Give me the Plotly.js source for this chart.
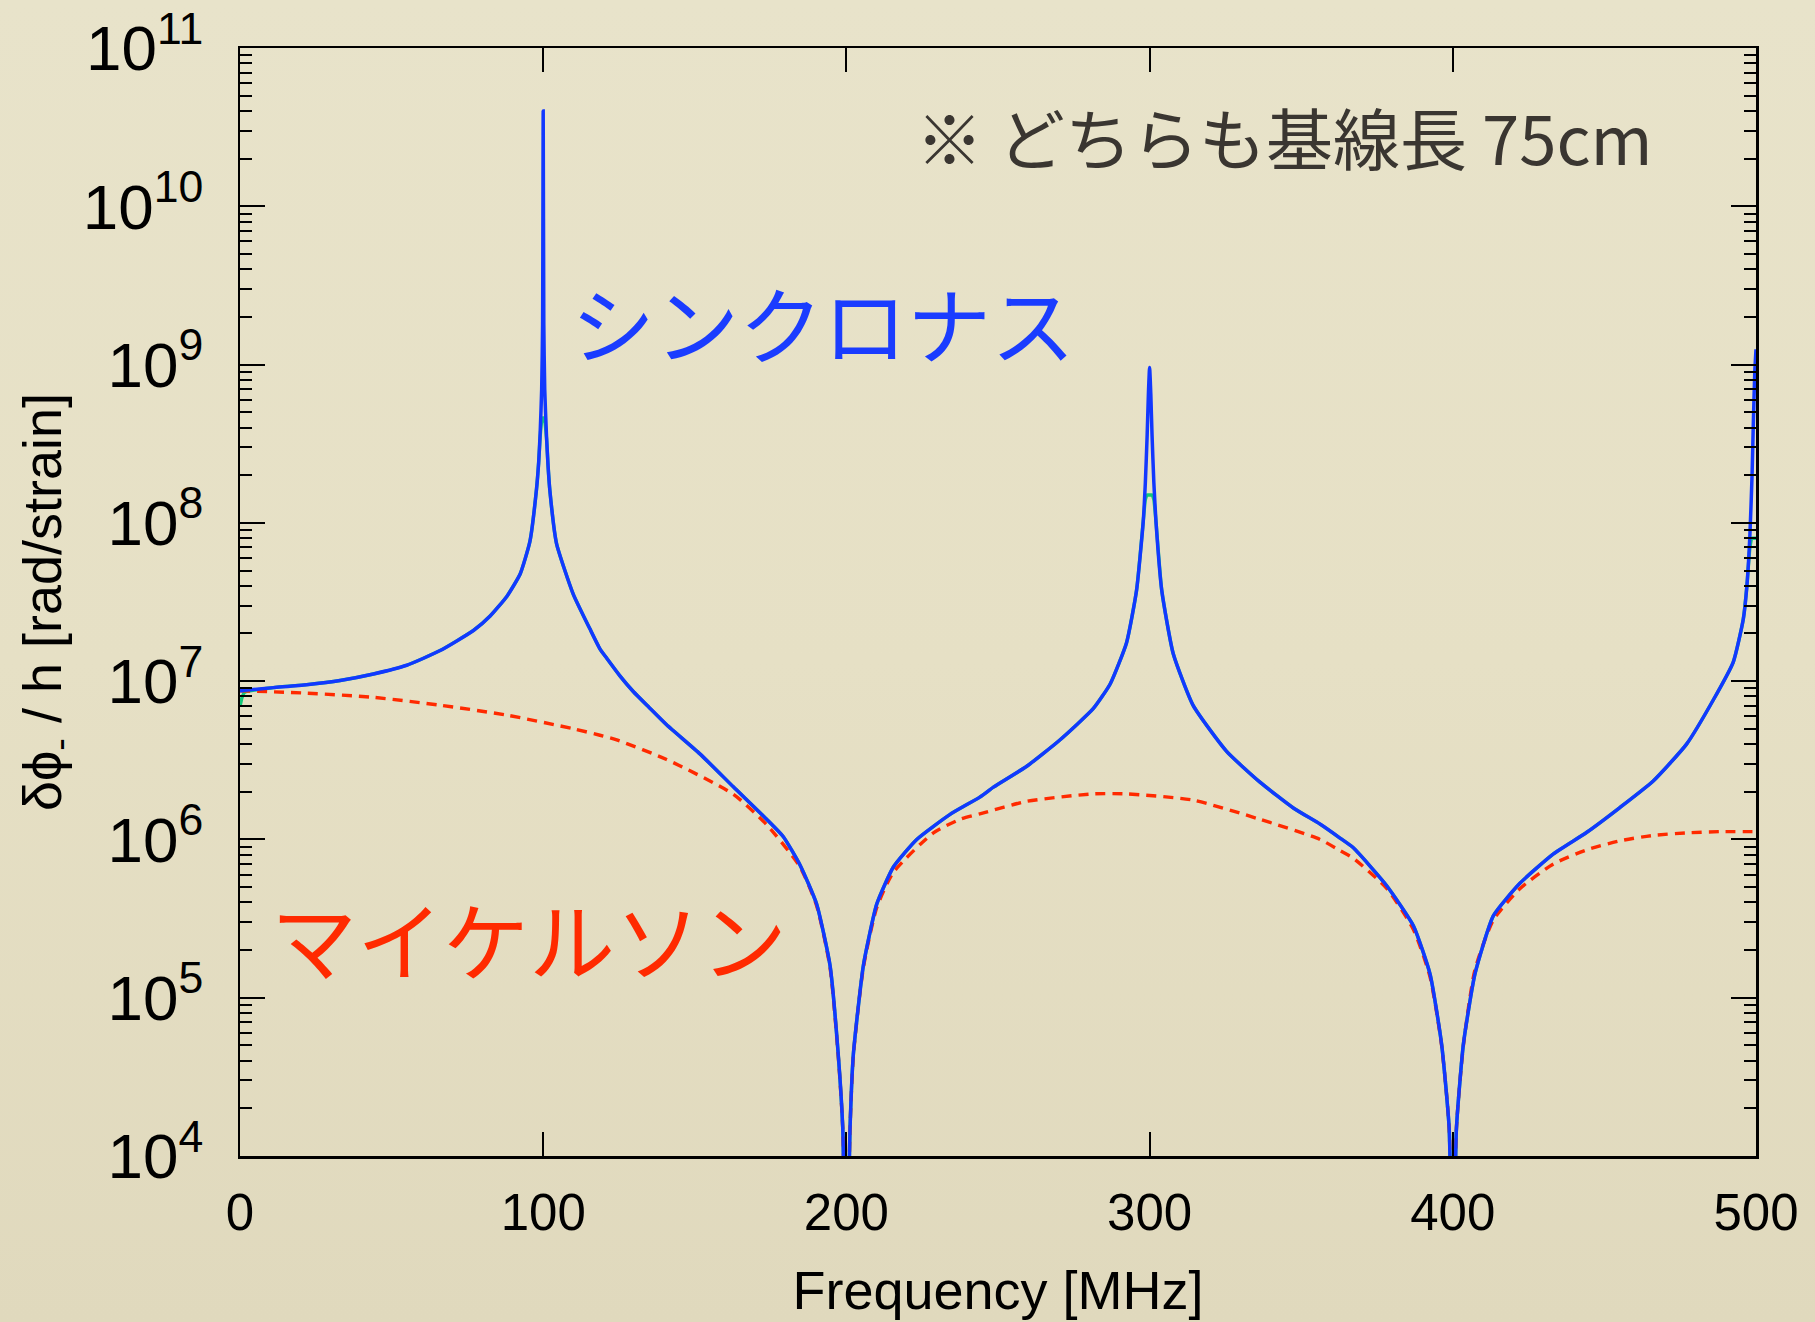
<!DOCTYPE html>
<html>
<head>
<meta charset="utf-8">
<script src="https://cdn.plot.ly/plotly-3.0.1.min.js"></script>
<style>
  html, body { margin: 0; padding: 0; }
  body { width: 1815px; height: 1322px; background: linear-gradient(180deg, #E8E3CA 0%, #E6E0C5 50%, #E0D9BD 100%); }
  #chart { width: 1815px; height: 1322px; }
</style>
</head>
<body>
<div id="chart"></div>
<script>
// Frequencies (MHz) shared by the synchronous (blue) and the third (green) curve
const syncFreq = [0, 0.6, 1.5, 11, 22, 33, 44, 55, 66, 77, 82.5, 88, 92.4, 95.6, 97.8, 98.5, 99, 99.5, 99.8, 100, 100.2, 100.5, 101.1, 101.6, 102.2, 104.4, 109.9, 115.4, 118.7, 120.9, 125.3, 129.7, 135, 140.7, 151.7, 162.7, 173.7, 179.2, 184.7, 190.2, 194.6, 197.3, 198.8, 200, 201.2, 202.3, 205.6, 210, 215.5, 223.2, 234.2, 244, 248.5, 259.5, 270.4, 281.4, 287, 292.4, 295.7, 297.9, 298.6, 299.2, 299.6, 300, 300.4, 300.8, 301.4, 302.1, 304, 307.8, 314.4, 325.4, 336.4, 347.4, 356.2, 362.8, 367.2, 378.2, 387, 392.5, 396.3, 398.8, 400, 401.2, 403.5, 407.3, 413.4, 422.2, 433.2, 444.2, 455.1, 466.1, 477.1, 485.9, 492.5, 495.8, 497, 498, 498.7, 499.1, 499.6, 500];
// Synchronous (blue) response
const syncVal = [8.7e6, 8.7e6, 8.75e6, 9.1e6, 9.5e6, 1.01e7, 1.11e7, 1.26e7, 1.56e7, 2.09e7, 2.58e7, 3.43e7, 4.75e7, 7.6e7, 1.64e8, 2.4e8, 3.7e8, 7e8, 1.8e9, 4.0e10, 1.8e9, 7e8, 3.5e8, 2.3e8, 1.6e8, 7.4e7, 3.55e7, 2.14e7, 1.6e7, 1.4e7, 1.08e7, 8.6e6, 6.8e6, 5.3e6, 3.47e6, 2.15e6, 1.34e6, 1.04e6, 6.9e5, 3.9e5, 1.6e5, 4.4e4, 1.5e4, 1e3, 1.5e4, 4.4e4, 1.6e5, 3.9e5, 6.7e5, 1.0e6, 1.44e6, 1.85e6, 2.14e6, 2.9e6, 4.25e6, 6.7e6, 9.6e6, 1.75e7, 3.75e7, 1.02e8, 1.8e8, 3.6e8, 6.5e8, 9.6e8, 6.5e8, 3.6e8, 1.8e8, 1.02e8, 3.75e7, 1.49e7, 7.0e6, 3.6e6, 2.3e6, 1.58e6, 1.25e6, 1.02e6, 8.85e5, 5.1e5, 2.85e5, 1.41e5, 5.1e4, 1.5e4, 1e3, 1.5e4, 5.1e4, 1.41e5, 3.3e5, 5.3e5, 8.1e5, 1.11e6, 1.59e6, 2.34e6, 4.0e6, 7.6e6, 1.32e7, 2.46e7, 4e7, 8.5e7, 2e8, 4.1e8, 9e8, 1.25e9];
// Third (green) response, mostly hidden under the blue one
const greenVal = [6.9e6, 7.8e6, 8.5e6, 9.1e6, 9.5e6, 1.01e7, 1.11e7, 1.26e7, 1.56e7, 2.09e7, 2.58e7, 3.43e7, 4.75e7, 7.6e7, 1.64e8, 2.4e8, 3.5e8, 4.4e8, 4.6e8, 4.6e8, 4.6e8, 4.4e8, 3.4e8, 2.3e8, 1.6e8, 7.4e7, 3.55e7, 2.14e7, 1.6e7, 1.4e7, 1.08e7, 8.6e6, 6.8e6, 5.3e6, 3.47e6, 2.15e6, 1.34e6, 1.04e6, 6.9e5, 3.9e5, 1.6e5, 4.4e4, 1.5e4, 1e3, 1.5e4, 4.4e4, 1.6e5, 3.9e5, 6.7e5, 1.0e6, 1.44e6, 1.85e6, 2.14e6, 2.9e6, 4.25e6, 6.7e6, 9.6e6, 1.75e7, 3.75e7, 1.02e8, 1.4e8, 1.5e8, 1.5e8, 1.5e8, 1.5e8, 1.5e8, 1.4e8, 1.02e8, 3.75e7, 1.49e7, 7.0e6, 3.6e6, 2.3e6, 1.58e6, 1.25e6, 1.02e6, 8.85e5, 5.1e5, 2.85e5, 1.41e5, 5.1e4, 1.5e4, 1e3, 1.5e4, 5.1e4, 1.41e5, 3.3e5, 5.3e5, 8.1e5, 1.11e6, 1.59e6, 2.34e6, 4.0e6, 7.6e6, 1.32e7, 2.46e7, 4e7, 7e7, 8e7, 8e7, 8e7, 8e7];

// Michelson (red dotted) response
const michFreq = [0, 22, 44, 66, 88, 110, 118.7, 124, 140.7, 162.7, 173.7, 184.7, 190.2, 194.6, 197.3, 198.8, 200, 201.2, 202.3, 205.6, 210, 215.5, 228.7, 237.5, 244, 259.5, 281.4, 292.4, 314.4, 336.4, 356.2, 362.8, 367.2, 378.2, 387, 392.5, 396.3, 398.8, 400, 401.2, 403.5, 407.3, 413.4, 422.2, 433.2, 444.2, 455.1, 466.1, 477.1, 488, 500];
const michVal = [8.7e6, 8.4e6, 7.9e6, 7.05e6, 6.1e6, 5.0e6, 4.55e6, 4.27e6, 3.2e6, 1.93e6, 1.24e6, 6.7e5, 3.8e5, 1.55e5, 4.3e4, 1.5e4, 1e3, 1.5e4, 4.3e4, 1.55e5, 3.7e5, 6.2e5, 1.1e6, 1.34e6, 1.45e6, 1.74e6, 1.94e6, 1.94e6, 1.77e6, 1.34e6, 1.0e6, 8.5e5, 7.6e5, 4.9e5, 2.7e5, 1.35e5, 5e4, 1.5e4, 1e3, 1.5e4, 5e4, 1.5e5, 3.1e5, 4.9e5, 7.0e5, 8.6e5, 9.8e5, 1.06e6, 1.10e6, 1.12e6, 1.12e6];

const xTickVals = [0, 100, 200, 300, 400, 500];
const xTickText = ['0', '100', '200', '300', '400', '500'];

const labelSync = 'シンクロナス';
const labelMich = 'マイケルソン';
const noteText = '※ どちらも基線長 75cm';
const xTitle = 'Frequency [MHz]';
const yTitle = 'δϕ<sub>-</sub> / h [rad/strain]';

const traces = [
  { x: syncFreq, y: greenVal, type: 'scatter', mode: 'lines',
    line: { color: '#13C97A', width: 3.4, shape: 'spline', smoothing: 0.5 }, hoverinfo: 'skip', showlegend: false },
  { x: michFreq, y: michVal, type: 'scatter', mode: 'lines',
    line: { color: '#FF2A00', width: 3.4, dash: '10px,7px', shape: 'spline', smoothing: 0.6 }, showlegend: false },
  { x: syncFreq, y: syncVal, type: 'scatter', mode: 'lines',
    line: { color: '#1238FF', width: 3.5, shape: 'spline', smoothing: 0.5 }, showlegend: false }
];

const tickFont = { family: '"Liberation Sans", Arial, sans-serif', size: 51, color: '#000000' };
const jpFont = '"Noto Sans CJK JP", "Noto Sans", sans-serif';

const layout = {
  width: 1815, height: 1322,
  margin: { l: 240, r: 59, t: 48, b: 166 },
  paper_bgcolor: 'rgba(0,0,0,0)',
  plot_bgcolor: 'rgba(0,0,0,0)',
  showlegend: false,
  xaxis: {
    range: [0, 500], tickvals: xTickVals, ticktext: xTickText,
    ticks: 'inside', ticklen: 24, tickwidth: 2, tickcolor: '#000',
    showline: true, linecolor: '#000', linewidth: 2.5, mirror: 'ticks',
    showgrid: false, zeroline: false,
    tickfont: tickFont, ticklabelstandoff: 10,
    title: { text: xTitle, font: { family: '"Liberation Sans", Arial, sans-serif', size: 54, color: '#000' }, standoff: 32 }
  },
  yaxis: {
    type: 'log', range: [4, 11], dtick: 1, exponentformat: 'power',
    ticks: 'inside', ticklen: 25, tickwidth: 2, tickcolor: '#000',
    minor: { ticks: 'inside', ticklen: 12, tickwidth: 2, tickcolor: '#000', dtick: 'D1', showgrid: false },
    showline: true, linecolor: '#000', linewidth: 2.5, mirror: 'ticks',
    showgrid: false, zeroline: false,
    tickfont: tickFont, ticklabelstandoff: 24,
    title: { text: yTitle, font: { family: '"Liberation Sans", Arial, sans-serif', size: 54, color: '#000' }, standoff: 4 }
  },
  annotations: [
    { text: labelSync, xref: 'paper', yref: 'paper', x: 0.217, y: 0.753, xanchor: 'left', yanchor: 'middle',
      showarrow: false, font: { family: jpFont, size: 84, color: '#1A3CFF' } },
    { text: labelMich, xref: 'paper', yref: 'paper', x: 0.019, y: 0.197, xanchor: 'left', yanchor: 'middle',
      showarrow: false, font: { family: jpFont, size: 86, color: '#FF2A00' } },
    { text: noteText, xref: 'paper', yref: 'paper', x: 0.4446, y: 0.921, xanchor: 'left', yanchor: 'middle',
      showarrow: false, font: { family: jpFont, size: 67, color: '#3A3631' } }
  ]
};

Plotly.newPlot('chart', traces, layout, { staticPlot: true, displayModeBar: false });
</script>
</body>
</html>
